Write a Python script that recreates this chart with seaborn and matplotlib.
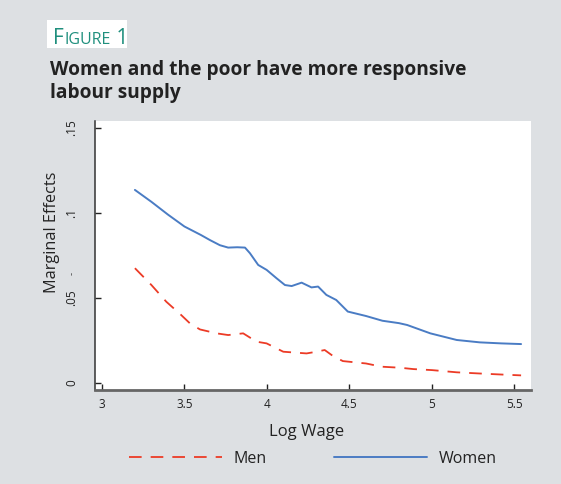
import pandas as pd
import matplotlib.pyplot as plt
import seaborn as sns

# Values
women_x = [3.20, 3.30, 3.40, 3.50, 3.60, 3.655, 3.715, 3.765, 3.82, 3.867, 3.897, 3.947, 3.998,
           4.058, 4.109, 4.15, 4.21, 4.27, 4.31, 4.36, 4.42, 4.49, 4.60, 4.70, 4.80, 4.85,
           4.99, 5.15, 5.29, 5.42, 5.54]
women_y = [0.1135, 0.1065, 0.0990, 0.0920, 0.0870, 0.0840, 0.0810, 0.0796, 0.0798, 0.0796, 0.0763,
           0.0694, 0.0665, 0.0616, 0.0576, 0.0570, 0.0590, 0.0562, 0.0567, 0.0518, 0.0488, 0.0420,
           0.0394, 0.0366, 0.0352, 0.0341, 0.0292, 0.0253, 0.0239, 0.0233, 0.0229]

men_x = [3.20, 3.30, 3.39, 3.48, 3.533, 3.594, 3.695, 3.765, 3.856, 3.937, 3.998, 4.099, 4.24,
         4.30, 4.35, 4.40, 4.46, 4.60, 4.695, 4.806, 4.887, 5.00, 5.15, 5.29, 5.42, 5.54]
men_y = [0.0675, 0.0576, 0.0478, 0.0400, 0.0351, 0.0315, 0.0292, 0.0282, 0.0292, 0.0243, 0.0233,
         0.0184, 0.0174, 0.0184, 0.0194, 0.0159, 0.0129, 0.0115, 0.0096, 0.0090, 0.0082, 0.0076,
         0.0063, 0.0056, 0.0050, 0.0045]

y_ticks = [0, 0.05, 0.1, 0.15]
y_tick_labels = ['0', '.05', '.1', '.15']
x_ticks = [3, 3.5, 4, 4.5, 5, 5.5]
x_tick_labels = ['3', '3.5', '4', '4.5', '5', '5.5']

bg = '#dde0e3'
blue = '#4a7cc4'
red = '#ec3b26'
teal = '#1f8f7d'

sns.set_style('ticks')
plt.rcParams['font.family'] = ['Open Sans', 'DejaVu Sans']

men = pd.DataFrame({'x': men_x, 'y': men_y})
women = pd.DataFrame({'x': women_x, 'y': women_y})

fig = plt.figure(figsize=(5.61, 4.84), dpi=100, facecolor=bg)
ax = fig.add_axes([0.1693, 0.1942, 0.7772, 0.5558])
ax.set_facecolor('white')

sns.lineplot(data=men, x='x', y='y', ax=ax, color=red, linewidth=1.3,
             linestyle=(0, (7, 5)), label='Men')
sns.lineplot(data=women, x='x', y='y', ax=ax, color=blue, linewidth=1.4, label='Women')

ax.set_xlim(2.958, 5.6)
ax.set_ylim(-0.0041, 0.154)
ax.set_xticks(x_ticks)
ax.set_xticklabels(x_tick_labels, fontsize=8.5, color='#222222')
ax.set_yticks(y_ticks)
ax.set_yticklabels(y_tick_labels, fontsize=8.5, color='#222222', rotation=90, va='center')
ax.tick_params(direction='in', length=4, width=1, color='#222222', pad=6)
ax.tick_params(axis='y', pad=12)

for s in ['top', 'right']:
    ax.spines[s].set_visible(False)
ax.spines['left'].set_color('#333333')
ax.spines['bottom'].set_color('#666666')
ax.spines['left'].set_linewidth(1.1)
ax.spines['bottom'].set_linewidth(2)

ax.set_xlabel('Log Wage', fontsize=12, color='#222222')
ax.xaxis.set_label_coords(0.485, -0.128)
ax.set_ylabel('Marginal Effects', fontsize=11.7, color='#222222')
ax.yaxis.set_label_coords(-0.08, 0.587)

# small stray dash next to the y tick labels
ax.text(-0.053, 0.435, '-', transform=ax.transAxes, rotation=90, fontsize=7,
        color='#444444', ha='center', va='center')

leg = ax.legend(loc='center', bbox_to_anchor=(0.5, -0.255), ncol=2, frameon=False,
                fontsize=11.5, handlelength=5.8, columnspacing=4.2, handletextpad=0.75)
for t in leg.get_texts():
    t.set_color('#222222')

# "FIGURE 1" label in small caps on a white box
fig.patches.append(plt.Rectangle((47 / 561, 1 - 48 / 484), 80 / 561, 28 / 484,
                                 transform=fig.transFigure, facecolor='white',
                                 edgecolor='none', zorder=0))
fig.canvas.draw()
renderer = fig.canvas.get_renderer()
x0 = 53
parts = [('F', 15), ('IGURE', 11.5), (' 1', 15)]
for txt, size in parts:
    t = fig.text(x0 / 561, 1 - 44 / 484, txt, fontsize=size, color=teal,
                 ha='left', va='baseline')
    bb = t.get_window_extent(renderer)
    x0 = bb.x1 + 0.3

fig.text(50 / 561, 1 - 98 / 484, 'Women and the poor have more responsive\nlabour supply',
         fontsize=13.8, fontweight='bold', color='#222222', ha='left', va='baseline',
         linespacing=1.2)

fig.savefig('out.png', dpi=100, facecolor=bg)
